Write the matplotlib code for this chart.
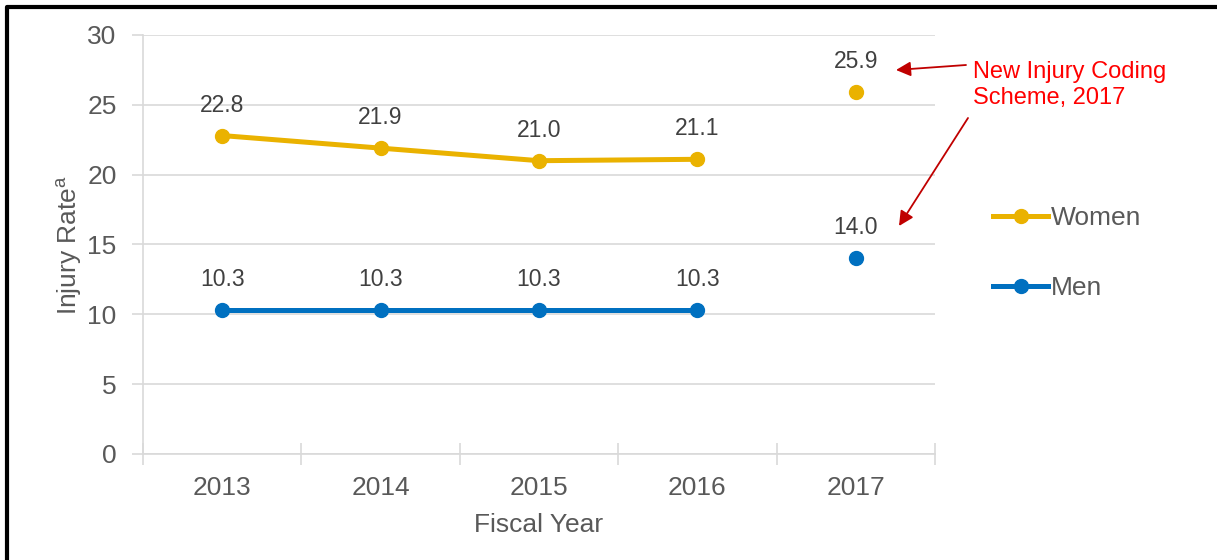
import matplotlib.pyplot as plt
import matplotlib.patches as patches
from matplotlib.lines import Line2D

plt.rcParams['font.family'] = ['Liberation Sans', 'DejaVu Sans']
plt.rcParams['mathtext.fontset'] = 'custom'
plt.rcParams['mathtext.rm'] = 'Liberation Sans'

years = ['2013', '2014', '2015', '2016', '2017']
women_old = [22.8, 21.9, 21.0, 21.1]
men_old = [10.3, 10.3, 10.3, 10.3]
women_new = [25.9]
men_new = [14.0]

women_c = '#EAB200'
men_c = '#0070C0'
grid_c = '#D9D9D9'
text_c = '#595959'
lab_c = '#404040'

fig = plt.figure(figsize=(12.17, 5.6), dpi=100)
ax = fig.add_axes([0.1175, 0.1893, 0.6508, 0.7482])

x_old = list(range(len(women_old)))
x_new = [len(years) - 1]

ax.plot(x_old, women_old, color=women_c, lw=3.6, marker='o', ms=10, label='Women', zorder=3)
ax.plot(x_old, men_old, color=men_c, lw=3.6, marker='o', ms=10, label='Men', zorder=3)
ax.plot(x_new, women_new, color=women_c, ls='none', marker='o', ms=10, zorder=3)
ax.plot(x_new, men_new, color=men_c, ls='none', marker='o', ms=10, zorder=3)

for xs, vals in [(x_old, women_old), (x_old, men_old), (x_new, women_new), (x_new, men_new)]:
    for xi, v in zip(xs, vals):
        ax.annotate(f'{v:.1f}', (xi, v), xytext=(0, 22), textcoords='offset points',
                    ha='center', va='center', fontsize=16.5, color=lab_c)

ax.set_xlim(-0.5, len(years) - 0.5)
ax.set_ylim(0, 30)
ax.set_yticks(range(0, 31, 5))
ax.set_xticks(range(len(years)))
ax.set_xticklabels(years)
ax.set_xticks([i - 0.5 for i in range(len(years) + 1)], minor=True)
ax.tick_params(axis='x', which='major', length=0, pad=16, labelsize=19, labelcolor=text_c)
ax.tick_params(axis='x', which='minor', direction='inout', length=16, width=1.2, color=grid_c)
ax.tick_params(axis='y', length=8, width=1.2, color=grid_c, pad=11, labelsize=19, labelcolor=text_c)
ax.grid(axis='y', color=grid_c, lw=1.2, zorder=0)
for s in ['top', 'right']:
    ax.spines[s].set_visible(False)
for s in ['left', 'bottom']:
    ax.spines[s].set_color(grid_c)
    ax.spines[s].set_linewidth(1.2)

ax.set_xlabel('Fiscal Year', fontsize=19, color=text_c, labelpad=9)
ax.set_ylabel(r'Injury Rate$^{\mathrm{a}}$', fontsize=19, color=text_c, labelpad=2)

fig.legend(loc='center left', bbox_to_anchor=(993 / 1217, (560 - 253) / 560),
           frameon=False, fontsize=19, labelcolor=text_c, handlelength=2.1,
           handletextpad=0.1, labelspacing=1.75, borderpad=0, borderaxespad=0)

fig.text(973 / 1217, (560 - 85) / 560, 'New Injury Coding\nScheme, 2017', color='#FF0000',
         fontsize=17, ha='left', va='center', linespacing=1.28)
arrow_c = '#C00000'
fig.add_artist(patches.FancyArrowPatch((966 / 1217, (560 - 65) / 560), (896 / 1217, (560 - 70) / 560),
                                       transform=fig.transFigure, arrowstyle='-|>', mutation_scale=22,
                                       color=arrow_c, lw=1.3, shrinkA=0, shrinkB=0))
fig.add_artist(patches.FancyArrowPatch((968 / 1217, (560 - 118) / 560), (899 / 1217, (560 - 226) / 560),
                                       transform=fig.transFigure, arrowstyle='-|>', mutation_scale=22,
                                       color=arrow_c, lw=1.3, shrinkA=0, shrinkB=0))

# border: top and left edges only
bx, by = 6.5 / 1217, 1 - 7 / 560
fig.add_artist(Line2D([bx, bx, 1], [0, by, by], transform=fig.transFigure, color='black', lw=3))

fig.savefig('out.png', dpi=100)
